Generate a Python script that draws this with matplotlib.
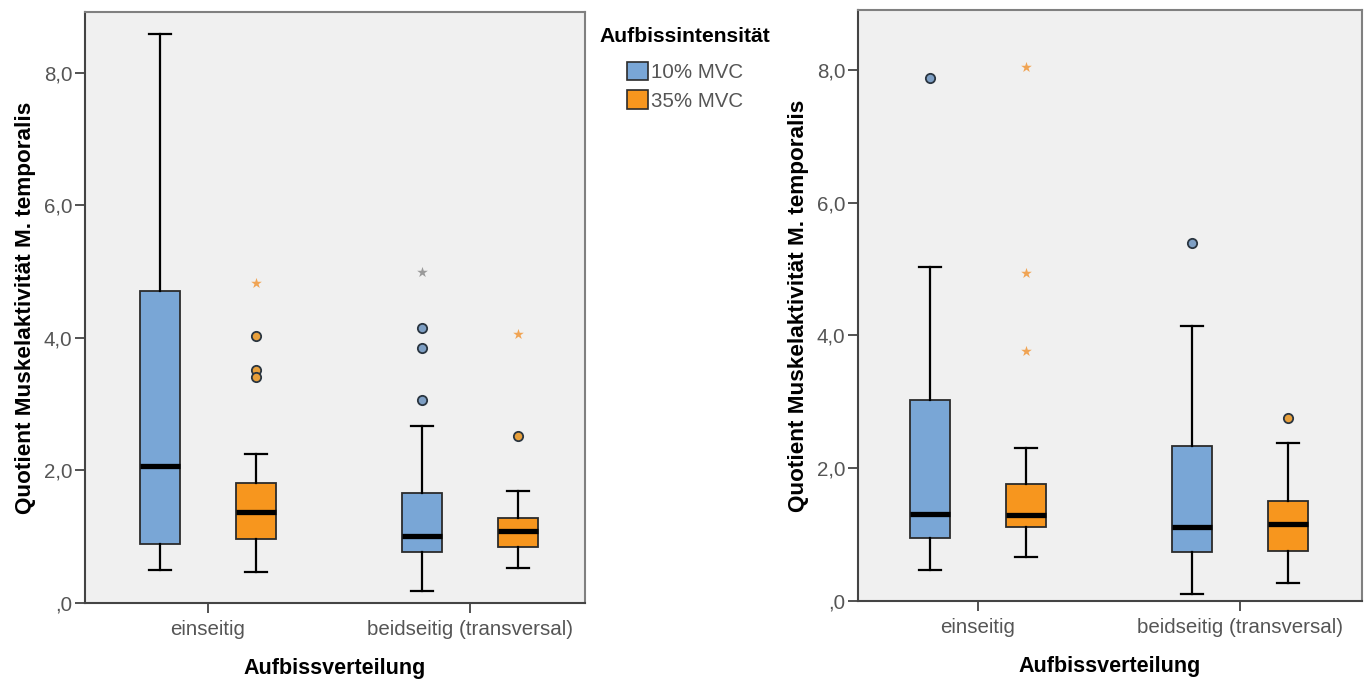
import numpy as np
import matplotlib
matplotlib.use("Agg")
import matplotlib.pyplot as plt
from matplotlib.patches import Patch

plt.rcParams['font.family'] = ['Liberation Sans', 'DejaVu Sans']

# data
groups = ["einseitig", "beidseitig (transversal)"]
series = ["10% MVC", "35% MVC"]
ytick_vals = [0, 2, 4, 6, 8]
ytick_labels = [",0", "2,0", "4,0", "6,0", "8,0"]

# left panel: [einseitig, beidseitig]
l10_lo = [0.50, 0.18]
l10_q1 = [0.89, 0.77]
l10_med = [2.07, 1.01]
l10_q3 = [4.71, 1.66]
l10_hi = [8.59, 2.67]
l10_out = [[], [4.15, 3.85, 3.06]]
l10_ext = [[], [5.00]]

l35_lo = [0.47, 0.53]
l35_q1 = [0.97, 0.85]
l35_med = [1.37, 1.09]
l35_q3 = [1.81, 1.28]
l35_hi = [2.25, 1.69]
l35_out = [[4.03, 3.52, 3.41], [2.52]]
l35_ext = [[4.83], [4.06]]

# right panel
r10_lo = [0.47, 0.11]
r10_q1 = [0.95, 0.74]
r10_med = [1.31, 1.11]
r10_q3 = [3.03, 2.33]
r10_hi = [5.03, 4.14]
r10_out = [[7.88], [5.39]]
r10_ext = [[], []]

r35_lo = [0.66, 0.27]
r35_q1 = [1.11, 0.75]
r35_med = [1.30, 1.16]
r35_q3 = [1.76, 1.51]
r35_hi = [2.30, 2.38]
r35_out = [[], [2.76]]
r35_ext = [[8.04, 4.94, 3.77], []]

blue = "#79a6d6"
orange = "#f7961e"
out_face = ["#7e9fc4", "#e8a03c"]
ext_col = ["#9a9a9a", "#f0a454"]
bg = "#f0f0f0"

fig = plt.figure(figsize=(13.7, 6.82), dpi=100)
ax1 = fig.add_axes([85/1370, 79/682, 500/1370, 591/682])
ax2 = fig.add_axes([858/1370, 81/682, 504/1370, 591/682])


def draw(ax, s10, s35, ylim, xlim):
    offs = [-0.183, 0.183]
    for k, (st, col) in enumerate([(s10, blue), (s35, orange)]):
        lo, q1, med, q3, hi, outs, exts = st
        stats = []
        for i in range(len(groups)):
            stats.append(dict(whislo=lo[i], q1=q1[i], med=med[i], q3=q3[i],
                              whishi=hi[i], fliers=[]))
        pos = [i + offs[k] for i in range(len(groups))]
        ax.bxp(stats, positions=pos, widths=0.153, showfliers=False,
               patch_artist=True, capwidths=0.085,
               boxprops=dict(facecolor=col, edgecolor="#2b2b2b", linewidth=1.3),
               medianprops=dict(color="black", linewidth=3.8),
               whiskerprops=dict(color="black", linewidth=1.6),
               capprops=dict(color="black", linewidth=1.6),
               manage_ticks=False, zorder=3)
        for i in range(len(groups)):
            if outs[i]:
                ax.scatter([pos[i]] * len(outs[i]), outs[i], s=45, marker="o",
                           facecolor=out_face[k], edgecolor="#2a3540",
                           linewidth=1.3, zorder=4)
            if exts[i]:
                ax.scatter([pos[i]] * len(exts[i]), exts[i], s=65, marker="*",
                           color=ext_col[k], linewidth=0, zorder=4)
    ax.set_facecolor(bg)
    ax.set_xlim(*xlim)
    ax.set_ylim(*ylim)
    ax.set_yticks(ytick_vals)
    ax.set_yticklabels(ytick_labels)
    ax.set_xticks(range(len(groups)))
    ax.set_xticklabels(groups)
    ax.tick_params(axis="both", direction="out", length=7, width=1.3,
                   colors="#444444", labelsize=14.8, labelcolor="#555555")
    ax.tick_params(axis="y", pad=2)
    ax.tick_params(axis="x", pad=5)
    for sp in ["left", "bottom"]:
        ax.spines[sp].set_color("#444444")
        ax.spines[sp].set_linewidth(1.5)
    for sp in ["top", "right"]:
        ax.spines[sp].set_color("#808080")
        ax.spines[sp].set_linewidth(1.5)
    ax.set_xlabel("Aufbissverteilung", fontsize=15.5, fontweight="bold",
                  labelpad=14)
    ax.set_ylabel("Quotient Muskelaktivität M. temporalis", fontsize=16.2,
                  fontweight="bold", labelpad=6)


draw(ax1, (l10_lo, l10_q1, l10_med, l10_q3, l10_hi, l10_out, l10_ext),
     (l35_lo, l35_q1, l35_med, l35_q3, l35_hi, l35_out, l35_ext),
     (0, 8.92), (-0.469, 1.439))
draw(ax2, (r10_lo, r10_q1, r10_med, r10_q3, r10_hi, r10_out, r10_ext),
     (r35_lo, r35_q1, r35_med, r35_q3, r35_hi, r35_out, r35_ext),
     (0, 8.90), (-0.458, 1.466))

# legend title placed on its own, entries below with a bigger gap
fig.text(685/1370, 1 - 37/682, "Aufbissintensität", fontsize=15.2,
         fontweight="bold", ha="center", va="center")
handles = [Patch(facecolor=blue, edgecolor="#2b2b2b", linewidth=1.2),
           Patch(facecolor=orange, edgecolor="#2b2b2b", linewidth=1.2)]
leg = fig.legend(handles, series,
                 loc="upper left", bbox_to_anchor=(627/1370, 1 - 62/682),
                 frameon=False, fontsize=14.8, handlelength=1.0,
                 handleheight=1.0, handletextpad=0.15, labelspacing=0.4,
                 borderpad=0, borderaxespad=0)
for t in leg.get_texts():
    t.set_color("#555555")

fig.savefig("out.png", dpi=100)
